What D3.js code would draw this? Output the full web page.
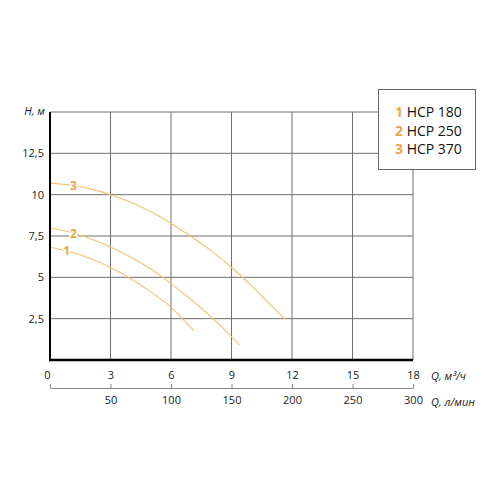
<!DOCTYPE html>
<html>
<head>
<meta charset="utf-8">
<script src="https://cdn.jsdelivr.net/npm/d3@7"></script>
<style>
  body { margin: 0; background: #fff; }
  text { font-family: "Open Sans", sans-serif; }
</style>
</head>
<body>
<div id="chart"></div>
<script>
// pump curves, Q in m3/h, H in m
var q1 = [0, 1, 2, 3, 4, 5, 6, 6.5, 7.15];
var h1 = [6.82, 6.55, 6.14, 5.6, 4.93, 4.12, 3.2, 2.58, 1.76];
var q2 = [0, 1, 2, 3, 4, 5, 6, 7, 8, 9, 9.39];
var h2 = [8.0, 7.73, 7.34, 6.84, 6.22, 5.5, 4.62, 3.66, 2.6, 1.41, 0.9];
var q3 = [0, 1, 2, 3, 4, 5, 6, 7, 8, 9, 10, 11, 11.65];
var h3 = [10.7, 10.58, 10.35, 10.0, 9.54, 8.96, 8.26, 7.47, 6.6, 5.61, 4.49, 3.26, 2.48];
var seriesNames = ["HCP 180", "HCP 250", "HCP 370"];
var seriesNums = ["1", "2", "3"];
var labelQ = [0.83, 1.16, 1.16];
var qTicks = [0, 3, 6, 9, 12, 15, 18];
var lTicks = [0, 50, 100, 150, 200, 250, 300];
var hTicks = [2.5, 5, 7.5, 10, 12.5];
var hTickLabels = ["2,5", "5", "7,5", "10", "12,5"];

var W = 500, H = 500;
var margin = {top: 112, right: 87, bottom: 140, left: 50};

var svg = d3.select("#chart").append("svg")
    .attr("width", W)
    .attr("height", H);

var x = d3.scaleLinear().domain([0, 18]).range([margin.left, W - margin.right]);
var xl = d3.scaleLinear().domain([0, 300]).range([margin.left, W - margin.right]);
var y = d3.scaleLinear().domain([0, 15]).range([H - margin.bottom, margin.top]);

var curveColor = "#f1c470";
var numColor = "#eaa648";
var gridColor = "#6f6f6f";

// grid
var grid = svg.append("g");
grid.selectAll("line.v")
    .data(qTicks.slice(1))
    .enter().append("line")
    .attr("x1", function(d) { return x(d); })
    .attr("x2", function(d) { return x(d); })
    .attr("y1", y(15))
    .attr("y2", y(0))
    .attr("stroke", gridColor)
    .attr("stroke-width", 1);
grid.selectAll("line.h")
    .data(hTicks.concat([15]))
    .enter().append("line")
    .attr("x1", x(0))
    .attr("x2", x(18))
    .attr("y1", function(d) { return y(d); })
    .attr("y2", function(d) { return y(d); })
    .attr("stroke", gridColor)
    .attr("stroke-width", 1);

// curves
var series = [
  q1.map(function(d, i) { return [d, h1[i]]; }),
  q2.map(function(d, i) { return [d, h2[i]]; }),
  q3.map(function(d, i) { return [d, h3[i]]; })
];
var line = d3.line()
    .x(function(d) { return x(d[0]); })
    .y(function(d) { return y(d[1]); })
    .curve(d3.curveNatural);

svg.append("g").selectAll("path")
    .data(series)
    .enter().append("path")
    .attr("d", line)
    .attr("fill", "none")
    .attr("stroke", curveColor)
    .attr("stroke-width", 1.1);

// numbers on curves
function interpH(s, q) {
  for (var i = 1; i < s.length; i++) {
    if (q <= s[i][0]) {
      var t = (q - s[i-1][0]) / (s[i][0] - s[i-1][0]);
      return s[i-1][1] + t * (s[i][1] - s[i-1][1]);
    }
  }
  return s[s.length-1][1];
}
svg.append("g").selectAll("text")
    .data(series)
    .enter().append("text")
    .attr("x", function(d, i) { return x(labelQ[i]); })
    .attr("y", function(d, i) { return y(interpH(d, labelQ[i])) + 4.5; })
    .attr("text-anchor", "middle")
    .attr("font-size", 12)
    .attr("font-weight", "bold")
    .attr("fill", numColor)
    .attr("stroke", "#fff")
    .attr("stroke-width", 3)
    .attr("paint-order", "stroke")
    .text(function(d, i) { return seriesNums[i]; });

// axes
var yAxis = d3.axisLeft(y)
    .tickValues(hTicks)
    .tickFormat(function(d, i) { return hTickLabels[i]; })
    .tickSize(0)
    .tickPadding(6);
var gy = svg.append("g")
    .attr("transform", "translate(" + margin.left + ",0)")
    .call(yAxis);
gy.select(".domain").remove();
gy.selectAll("text").attr("font-size", 11).attr("fill", "#222").attr("font-family", "Open Sans, sans-serif");

var xAxis = d3.axisBottom(x)
    .tickValues(qTicks)
    .tickSize(0)
    .tickPadding(11);
var gx = svg.append("g")
    .attr("transform", "translate(0," + y(0) + ")")
    .call(xAxis);
gx.select(".domain").remove();
gx.selectAll("text").attr("font-size", 11).attr("fill", "#222").attr("font-family", "Open Sans, sans-serif");
gx.selectAll("text").filter(function(d) { return d === 0; }).attr("dx", -3);

var xlAxis = d3.axisBottom(xl)
    .tickValues(lTicks)
    .tickFormat(function(d) { return d === 0 ? "" : d; })
    .tickSizeInner(-4)
    .tickSizeOuter(0)
    .tickPadding(8);
var gxl = svg.append("g")
    .attr("transform", "translate(0,388)")
    .call(xlAxis);
gxl.select(".domain").attr("stroke", "#888");
gxl.selectAll("line").attr("stroke", "#888");
gxl.selectAll("text").attr("font-size", 11).attr("fill", "#222").attr("font-family", "Open Sans, sans-serif");

// thick axis lines
svg.append("line")
    .attr("x1", x(0)).attr("x2", x(0))
    .attr("y1", y(15)).attr("y2", y(0) + 1)
    .attr("stroke", "#000").attr("stroke-width", 2);
svg.append("line")
    .attr("x1", x(0) - 1).attr("x2", x(18))
    .attr("y1", y(0)).attr("y2", y(0))
    .attr("stroke", "#000").attr("stroke-width", 2.5);

// axis titles
svg.append("text")
    .attr("x", 45).attr("y", y(15) + 3)
    .attr("text-anchor", "end")
    .attr("font-size", 11)
    .attr("font-style", "italic")
    .attr("fill", "#222")
    .text("H, м");
svg.append("text")
    .attr("x", 431).attr("y", 380)
    .attr("font-size", 11)
    .attr("font-style", "italic")
    .attr("fill", "#222")
    .text("Q, м³/ч");
svg.append("text")
    .attr("x", 431).attr("y", 406)
    .attr("font-size", 11)
    .attr("font-style", "italic")
    .attr("fill", "#222")
    .text("Q, л/мин");

// legend
var legend = svg.append("g");
legend.append("rect")
    .attr("x", 378.5).attr("y", 89.5)
    .attr("width", 97).attr("height", 80)
    .attr("fill", "#fff")
    .attr("stroke", "#666")
    .attr("stroke-width", 1);
var rows = legend.selectAll("text")
    .data(seriesNames)
    .enter().append("text")
    .attr("x", 395)
    .attr("y", function(d, i) { return 117 + i * 18.5; })
    .attr("font-size", 14)
    .attr("fill", "#111");
rows.append("tspan")
    .attr("fill", numColor)
    .attr("font-weight", "bold")
    .text(function(d, i) { return seriesNums[i]; });
rows.append("tspan")
    .text(function(d) { return " " + d; });
</script>
</body>
</html>
